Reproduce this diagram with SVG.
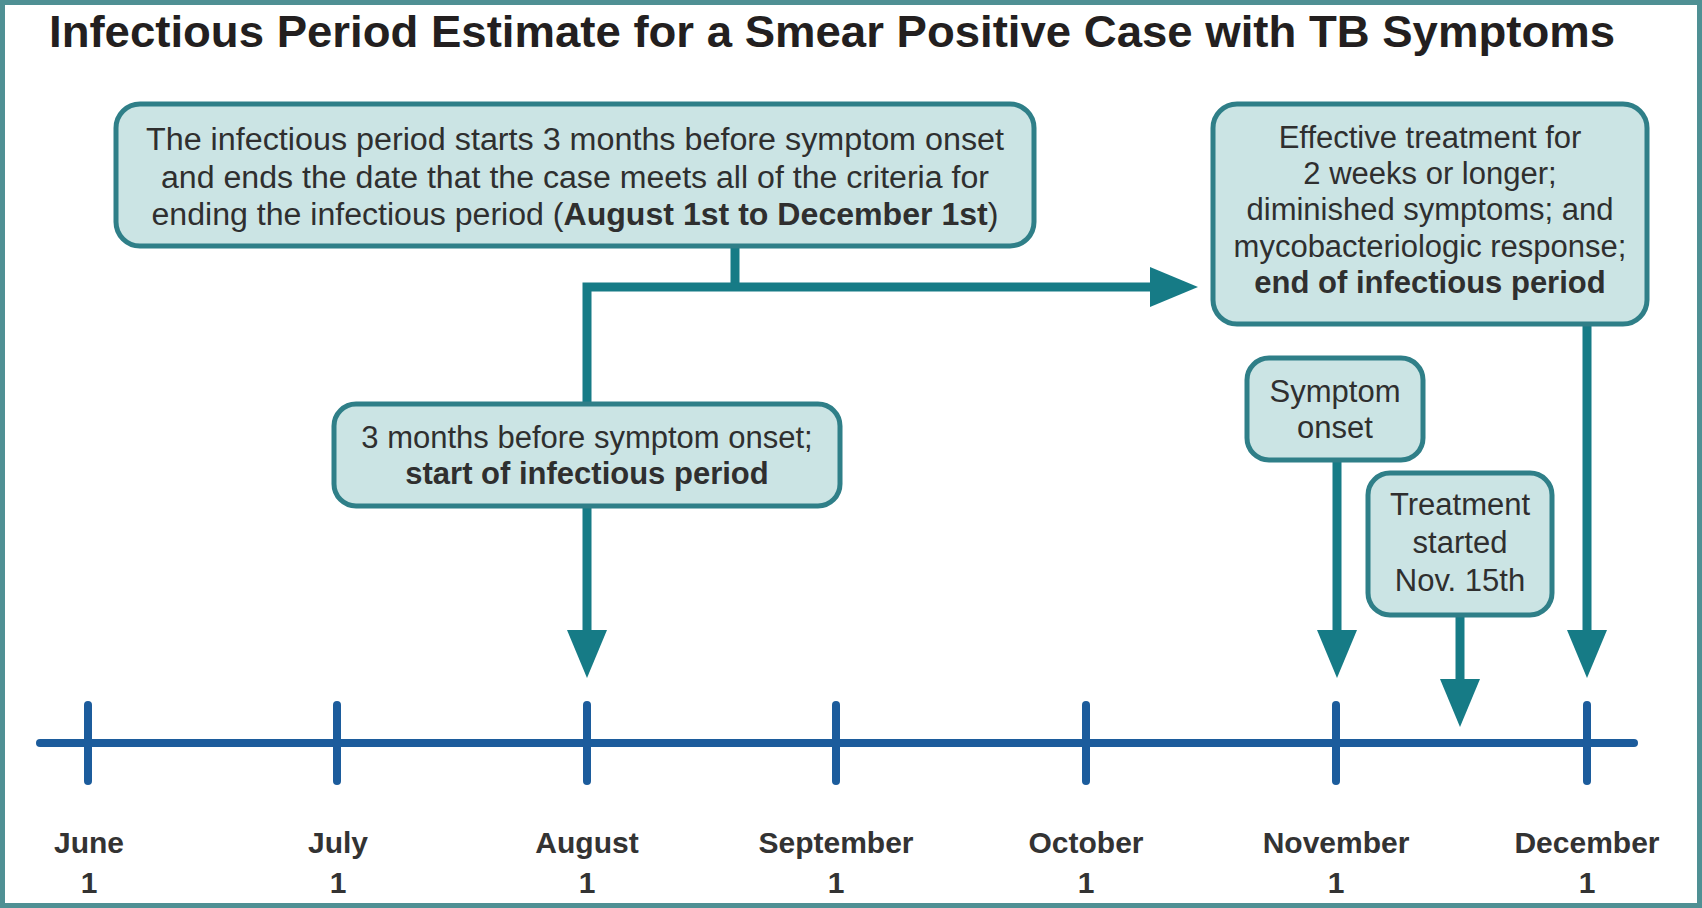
<svg xmlns="http://www.w3.org/2000/svg" width="1702" height="908" viewBox="0 0 1702 908">
  <defs>
    <style>
      .box { fill: #cbe4e4; stroke: #2f7f88; stroke-width: 5; }
      .txt { font-family: "Liberation Sans", Arial, sans-serif; font-size: 31px; fill: #2f2f2f; text-anchor: middle; }
      .b { font-weight: bold; }
      .conn { fill: none; stroke: #167b86; stroke-width: 9; stroke-linecap: butt; }
      .axis { stroke: #1c5c9c; stroke-width: 8; stroke-linecap: round; }
      .month { font-family: "Liberation Sans", Arial, sans-serif; font-size: 30px; font-weight: bold; fill: #333; text-anchor: middle; }
    </style>
    <marker id="arrow" viewBox="0 0 48 40" refX="0" refY="20" markerWidth="48" markerHeight="40" markerUnits="userSpaceOnUse" orient="auto">
      <path d="M0,0 L48,20 L0,40 Z" fill="#167b86"/>
    </marker>
  </defs>

  <rect x="2.5" y="2.5" width="1697" height="903" fill="#ffffff" stroke="#4f9094" stroke-width="5"/>

  <text id="title" x="49" y="47" font-family="'Liberation Sans', Arial, sans-serif" font-size="45" font-weight="bold" fill="#231f20" textLength="1566" lengthAdjust="spacingAndGlyphs">Infectious Period Estimate for a Smear Positive Case with TB Symptoms</text>

  <!-- connectors -->
  <g id="connectors">
    <path class="conn" d="M735,246 V287"/>
    <path class="conn" d="M587,404 V287 H1150" marker-end="url(#arrow)"/>
    <path class="conn" d="M587,506 V630" marker-end="url(#arrow)"/>
    <path class="conn" d="M1587,324 V630" marker-end="url(#arrow)"/>
    <path class="conn" d="M1337,460 V630" marker-end="url(#arrow)"/>
    <path class="conn" d="M1460,615 V679" marker-end="url(#arrow)"/>
  </g>

  <!-- nodes -->
  <g id="box-infectious-period">
    <rect class="box" x="116" y="104" width="918" height="142" rx="24"/>
    <text class="txt" x="575" y="150" font-size="33" textLength="858" lengthAdjust="spacingAndGlyphs">The infectious period starts 3 months before symptom onset</text>
    <text class="txt" x="575" y="188" font-size="33" textLength="828" lengthAdjust="spacingAndGlyphs">and ends the date that the case meets all of the criteria for</text>
    <text class="txt" x="575" y="225" font-size="33" textLength="847" lengthAdjust="spacingAndGlyphs">ending the infectious period (<tspan class="b">August 1st to December 1st</tspan>)</text>
  </g>

  <g id="box-end">
    <rect class="box" x="1213" y="104" width="434" height="220" rx="24"/>
    <text class="txt" x="1430" y="148">Effective treatment for</text>
    <text class="txt" x="1430" y="184">2 weeks or longer;</text>
    <text class="txt" x="1430" y="220">diminished symptoms; and</text>
    <text class="txt" x="1430" y="257">mycobacteriologic response;</text>
    <text class="txt b" x="1430" y="293">end of infectious period</text>
  </g>

  <g id="box-start">
    <rect class="box" x="334" y="404" width="506" height="102" rx="22"/>
    <text class="txt" x="587" y="448">3 months before symptom onset;</text>
    <text class="txt b" x="587" y="484">start of infectious period</text>
  </g>

  <g id="box-symptom-onset">
    <rect class="box" x="1247" y="358" width="176" height="102" rx="22"/>
    <text class="txt" x="1335" y="402">Symptom</text>
    <text class="txt" x="1335" y="438">onset</text>
  </g>

  <g id="box-treatment">
    <rect class="box" x="1368" y="473" width="184" height="142" rx="22"/>
    <text class="txt" x="1460" y="515">Treatment</text>
    <text class="txt" x="1460" y="553">started</text>
    <text class="txt" x="1460" y="591">Nov. 15th</text>
  </g>

  <!-- timeline -->
  <g id="timeline">
    <line class="axis" x1="40" y1="743" x2="1634" y2="743"/>
    <line class="axis" x1="88" y1="705" x2="88" y2="781"/>
    <line class="axis" x1="337" y1="705" x2="337" y2="781"/>
    <line class="axis" x1="587" y1="705" x2="587" y2="781"/>
    <line class="axis" x1="836" y1="705" x2="836" y2="781"/>
    <line class="axis" x1="1086" y1="705" x2="1086" y2="781"/>
    <line class="axis" x1="1336" y1="705" x2="1336" y2="781"/>
    <line class="axis" x1="1587" y1="705" x2="1587" y2="781"/>
  </g>

  <g id="labels">
    <text class="month" x="89" y="853">June</text>
    <text class="month" x="89" y="893">1</text>
    <text class="month" x="338" y="853">July</text>
    <text class="month" x="338" y="893">1</text>
    <text class="month" x="587" y="853">August</text>
    <text class="month" x="587" y="893">1</text>
    <text class="month" x="836" y="853">September</text>
    <text class="month" x="836" y="893">1</text>
    <text class="month" x="1086" y="853">October</text>
    <text class="month" x="1086" y="893">1</text>
    <text class="month" x="1336" y="853">November</text>
    <text class="month" x="1336" y="893">1</text>
    <text class="month" x="1587" y="853">December</text>
    <text class="month" x="1587" y="893">1</text>
  </g>
</svg>
